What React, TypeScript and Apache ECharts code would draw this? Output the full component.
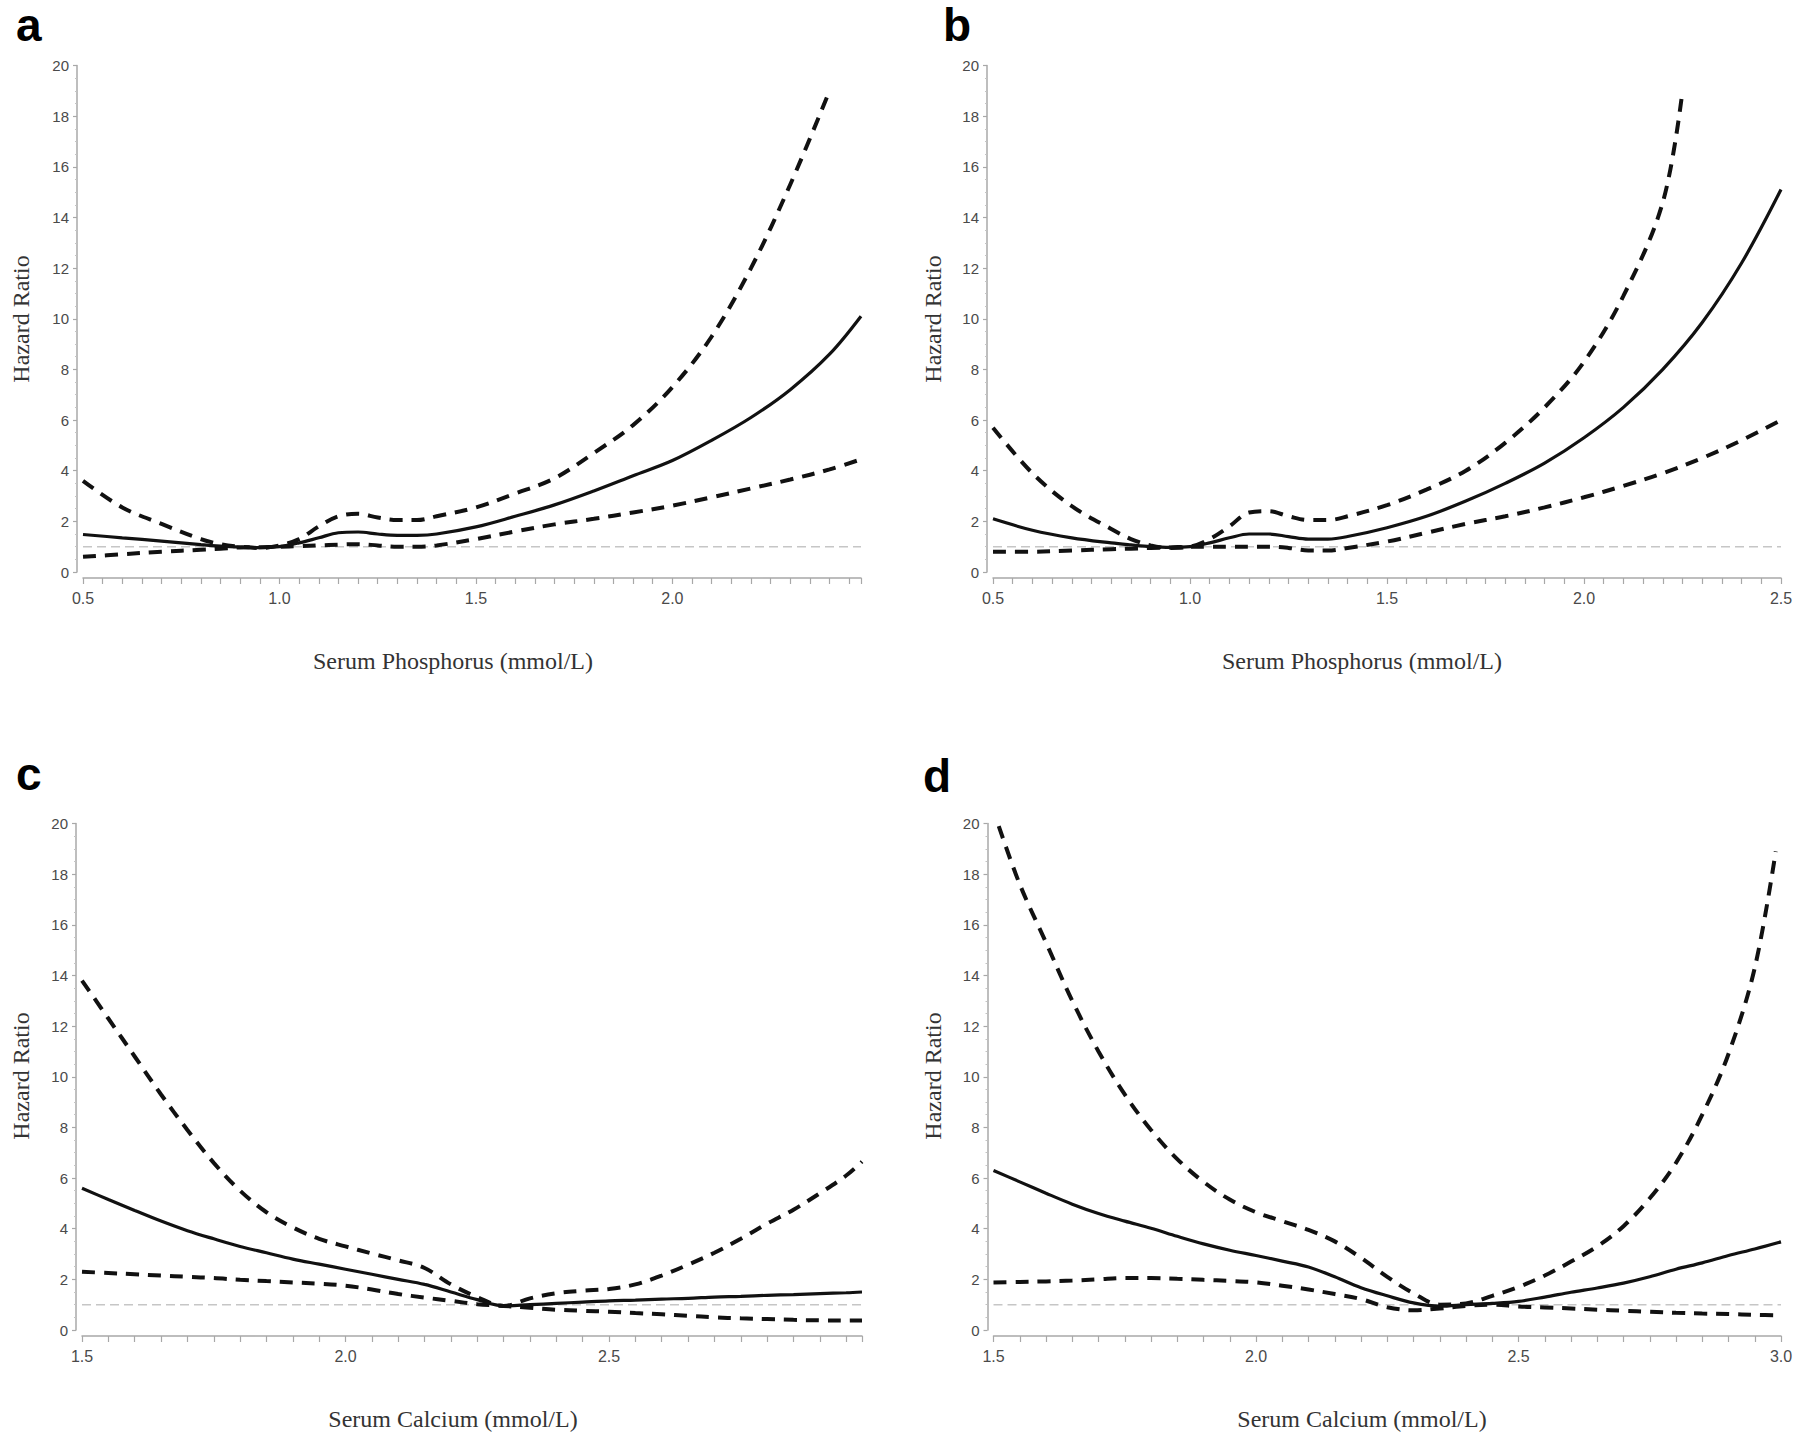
import React, { useEffect, useRef } from "react";
import * as echarts from "echarts";

// ---------- Data ----------
// Panel a: serum phosphorus
const aX = [0.5, 0.6, 0.7, 0.8, 0.85, 0.9, 0.95, 1.0, 1.05, 1.1, 1.15, 1.2, 1.25, 1.3, 1.35, 1.4, 1.5, 1.6, 1.7, 1.8, 1.9, 2.0, 2.1, 2.2, 2.3, 2.4, 2.48];
const aHR = [1.48, 1.35, 1.22, 1.08, 1.02, 0.98, 0.96, 1.0, 1.15, 1.35, 1.55, 1.58, 1.5, 1.45, 1.45, 1.5, 1.78, 2.2, 2.65, 3.2, 3.8, 4.4, 5.2, 6.1, 7.2, 8.6, 10.1];
const aLo = [0.6, 0.7, 0.8, 0.88, 0.92, 0.97, 0.98, 1.0, 1.02, 1.05, 1.08, 1.1, 1.05, 1.0, 1.0, 1.05, 1.3, 1.6, 1.88, 2.1, 2.35, 2.62, 2.95, 3.3, 3.65, 4.05, 4.45];
const aHiX = [0.5, 0.6, 0.7, 0.8, 0.85, 0.9, 0.95, 1.0, 1.05, 1.1, 1.15, 1.2, 1.25, 1.3, 1.35, 1.4, 1.5, 1.6, 1.7, 1.8, 1.9, 2.0, 2.1, 2.2, 2.3, 2.4];
const aHi = [3.6, 2.55, 1.9, 1.3, 1.1, 1.0, 0.95, 1.05, 1.3, 1.8, 2.2, 2.3, 2.15, 2.05, 2.05, 2.2, 2.55, 3.1, 3.7, 4.7, 5.8, 7.3, 9.3, 12.0, 15.3, 19.0];

// Panel b: serum phosphorus
const bX = [0.5, 0.6, 0.7, 0.8, 0.85, 0.9, 0.95, 1.0, 1.05, 1.1, 1.15, 1.2, 1.25, 1.3, 1.35, 1.4, 1.5, 1.6, 1.7, 1.8, 1.9, 2.0, 2.1, 2.2, 2.3, 2.4, 2.5];
const bHR = [2.1, 1.65, 1.35, 1.15, 1.07, 1.0, 0.97, 1.0, 1.15, 1.35, 1.5, 1.5, 1.4, 1.3, 1.3, 1.4, 1.75, 2.2, 2.8, 3.5, 4.3, 5.3, 6.5, 8.0, 9.85, 12.2, 15.1];
const bLo = [0.8, 0.8, 0.85, 0.9, 0.92, 0.95, 0.97, 1.0, 1.0, 1.0, 1.0, 1.0, 0.95, 0.85, 0.85, 0.95, 1.2, 1.55, 1.9, 2.2, 2.55, 2.95, 3.4, 3.9, 4.5, 5.2, 6.0];
const bHiX = [0.5, 0.6, 0.7, 0.8, 0.85, 0.9, 0.95, 1.0, 1.05, 1.1, 1.15, 1.2, 1.25, 1.3, 1.35, 1.4, 1.5, 1.6, 1.7, 1.8, 1.9, 2.0, 2.1, 2.2, 2.25];
const bHi = [5.7, 3.9, 2.6, 1.7, 1.3, 1.05, 0.95, 1.0, 1.3, 1.8, 2.35, 2.4, 2.2, 2.05, 2.05, 2.2, 2.64, 3.25, 4.0, 5.1, 6.5, 8.3, 10.9, 14.6, 19.0];

// Panel c: serum calcium
const cX = [1.5, 1.55, 1.6, 1.65, 1.7, 1.75, 1.8, 1.85, 1.9, 1.95, 2.0, 2.05, 2.1, 2.15, 2.2, 2.25, 2.3, 2.35, 2.4, 2.45, 2.5, 2.55, 2.6, 2.65, 2.7, 2.75, 2.8, 2.85, 2.9, 2.95, 2.98];
const cHR = [5.6, 5.15, 4.72, 4.3, 3.92, 3.6, 3.3, 3.05, 2.8, 2.6, 2.4, 2.2, 2.0, 1.8, 1.5, 1.2, 0.95, 1.0, 1.05, 1.1, 1.15, 1.18, 1.22, 1.25, 1.3, 1.33, 1.37, 1.4, 1.44, 1.47, 1.5];
const cLo = [2.3, 2.25, 2.2, 2.15, 2.1, 2.05, 1.98, 1.93, 1.88, 1.83, 1.75, 1.6, 1.42, 1.28, 1.15, 1.02, 0.95, 0.88, 0.8, 0.76, 0.72, 0.67, 0.62, 0.56, 0.5, 0.46, 0.43, 0.4, 0.38, 0.37, 0.38];
const cHi = [13.8, 12.3, 10.8, 9.3, 7.9, 6.6, 5.5, 4.65, 4.05, 3.6, 3.3, 3.02, 2.75, 2.45, 1.8, 1.3, 0.95, 1.25, 1.45, 1.55, 1.62, 1.8, 2.15, 2.58, 3.05, 3.6, 4.2, 4.75, 5.4, 6.1, 6.65];

// Panel d: serum calcium
const dX = [1.5, 1.55, 1.6, 1.65, 1.7, 1.75, 1.8, 1.85, 1.9, 1.95, 2.0, 2.05, 2.1, 2.15, 2.2, 2.25, 2.3, 2.35, 2.4, 2.45, 2.5, 2.55, 2.6, 2.65, 2.7, 2.75, 2.8, 2.85, 2.9, 2.95, 3.0];
const dHR = [6.3, 5.85, 5.4, 4.97, 4.6, 4.3, 4.02, 3.7, 3.4, 3.15, 2.94, 2.72, 2.49, 2.1, 1.67, 1.35, 1.07, 0.94, 1.0, 1.05, 1.13, 1.3, 1.49, 1.66, 1.85, 2.1, 2.4, 2.65, 2.94, 3.2, 3.48];
const dLo = [1.88, 1.9, 1.92, 1.95, 2.0, 2.05, 2.05, 2.02, 1.98, 1.94, 1.88, 1.75, 1.6, 1.42, 1.22, 0.9, 0.78, 0.85, 0.95, 1.0, 0.93, 0.89, 0.85, 0.8, 0.76, 0.72, 0.68, 0.65, 0.63, 0.6, 0.58];
const dHiX = [1.51, 1.55, 1.6, 1.65, 1.7, 1.75, 1.8, 1.85, 1.9, 1.95, 2.0, 2.05, 2.1, 2.15, 2.2, 2.25, 2.3, 2.35, 2.4, 2.45, 2.5, 2.55, 2.6, 2.65, 2.7, 2.75, 2.8, 2.85, 2.9, 2.95, 2.99];
const dHi = [19.9, 17.6, 15.3, 13.0, 11.0, 9.3, 7.9, 6.75, 5.85, 5.15, 4.65, 4.3, 3.95, 3.5, 2.85, 2.1, 1.45, 1.0, 1.05, 1.35, 1.7, 2.15, 2.7, 3.3, 4.1, 5.2, 6.6, 8.5, 10.9, 14.3, 18.9];

// Reference hazard ratio line
const refHR = 1;

// Axis ranges and labels
const yMin = 0;
const yMax = 20;
const yStep = 2;
const xStep = 0.5;
const panelLetters = ["a", "b", "c", "d"];
const xTitles = ["Serum Phosphorus (mmol/L)", "Serum Phosphorus (mmol/L)", "Serum Calcium (mmol/L)", "Serum Calcium (mmol/L)"];
const yTitle = "Hazard Ratio";

const pairs = (xs: number[], ys: number[]) => xs.map((x, i) => [x, ys[i]]);

const panels = [
  { grid: { left: 83, top: 65.5, width: 778, height: 506.5 }, xMin: 0.5, xMax: 2.48, showMax: false, x: aX, hr: aHR, lo: aLo, hiX: aHiX, hi: aHi,
    letter: { x: 16, y: 25 }, xt: { x: 453, y: 661 }, yt: { x: 21, y: 319 } },
  { grid: { left: 993, top: 65.5, width: 788, height: 506.5 }, xMin: 0.5, xMax: 2.5, showMax: true, x: bX, hr: bHR, lo: bLo, hiX: bHiX, hi: bHi,
    letter: { x: 943, y: 25 }, xt: { x: 1362, y: 661 }, yt: { x: 933, y: 319 } },
  { grid: { left: 82, top: 823.5, width: 780, height: 506.5 }, xMin: 1.5, xMax: 2.98, showMax: false, x: cX, hr: cHR, lo: cLo, hiX: cX, hi: cHi,
    letter: { x: 16, y: 774 }, xt: { x: 453, y: 1419 }, yt: { x: 21, y: 1076 } },
  { grid: { left: 993.5, top: 823.5, width: 787.5, height: 506.5 }, xMin: 1.5, xMax: 3.0, showMax: true, x: dX, hr: dHR, lo: dLo, hiX: dHiX, hi: dHi,
    letter: { x: 923, y: 776 }, xt: { x: 1362, y: 1419 }, yt: { x: 933, y: 1076 } },
];

const AXIS_COLOR = "#a8a8a8";
const LABEL_COLOR = "#4a4a4a";
const NARROW = '"Liberation Sans Narrow", "Arial Narrow", "Liberation Sans", sans-serif';
const SERIF = '"Liberation Serif", "Times New Roman", serif';

export default function App() {
  const ref = useRef<HTMLDivElement>(null);

  useEffect(() => {
    if (!ref.current) return;
    const chart = echarts.init(ref.current, undefined, { renderer: "svg" });

    const grid = panels.map((p) => ({ ...p.grid, containLabel: false }));

    const xAxis = panels.map((p, i) => ({
      type: "value",
      gridIndex: i,
      min: p.xMin,
      max: p.xMax,
      interval: xStep,
      offset: 6,
      axisLine: { show: true, onZero: false, lineStyle: { color: AXIS_COLOR, width: 1.5 } },
      axisTick: { show: true, length: 6, lineStyle: { color: AXIS_COLOR, width: 1.2 } },
      minorTick: { show: true, splitNumber: 10, length: 6, lineStyle: { color: AXIS_COLOR, width: 1.2 } },
      splitLine: { show: false },
      minorSplitLine: { show: false },
      axisLabel: {
        show: true,
        margin: 12,
        color: LABEL_COLOR,
        fontSize: 16,
        fontFamily: NARROW,
        showMaxLabel: p.showMax,
        showMinLabel: true,
        formatter: (v: number) => v.toFixed(1),
      },
    }));

    const yAxis = panels.map((p, i) => ({
      type: "value",
      gridIndex: i,
      min: yMin,
      max: yMax,
      interval: yStep,
      offset: 6,
      axisLine: { show: true, onZero: false, lineStyle: { color: AXIS_COLOR, width: 1.5 } },
      axisTick: { show: true, length: 4, lineStyle: { color: AXIS_COLOR, width: 1.2 } },
      minorTick: { show: true, splitNumber: 4, length: 2, lineStyle: { color: "#c4c4c4", width: 1 } },
      splitLine: { show: false },
      axisLabel: { show: true, margin: 8, color: LABEL_COLOR, fontSize: 15, fontFamily: NARROW },
    }));

    const series: any[] = [];
    panels.forEach((p, i) => {
      series.push({
        type: "line",
        xAxisIndex: i,
        yAxisIndex: i,
        data: [[p.xMin, refHR], [p.xMax, refHR]],
        symbol: "none",
        silent: true,
        lineStyle: { color: "#c6c6c6", width: 1.6, type: [9, 5] },
        z: 1,
      });
      series.push({
        type: "line",
        xAxisIndex: i,
        yAxisIndex: i,
        data: pairs(p.x, p.lo),
        symbol: "none",
        smooth: 0.35,
        lineStyle: { color: "#111111", width: 4, type: [13, 9] },
        z: 2,
      });
      series.push({
        type: "line",
        xAxisIndex: i,
        yAxisIndex: i,
        data: pairs(p.hiX, p.hi),
        symbol: "none",
        smooth: 0.35,
        lineStyle: { color: "#111111", width: 4, type: [13, 9] },
        z: 2,
      });
      series.push({
        type: "line",
        xAxisIndex: i,
        yAxisIndex: i,
        data: pairs(p.x, p.hr),
        symbol: "none",
        smooth: 0.35,
        lineStyle: { color: "#111111", width: 3.2, type: "solid" },
        z: 3,
      });
    });

    const graphic: any[] = [];
    panels.forEach((p, i) => {
      graphic.push({
        type: "text",
        x: p.letter.x,
        y: p.letter.y,
        style: {
          text: panelLetters[i],
          font: 'bold 46px "Liberation Sans", Arial, sans-serif',
          fill: "#000000",
          align: "left",
          verticalAlign: "middle",
        },
      });
      graphic.push({
        type: "text",
        x: p.xt.x,
        y: p.xt.y,
        style: {
          text: xTitles[i],
          font: "24px " + SERIF,
          fill: "#333333",
          align: "center",
          verticalAlign: "middle",
        },
      });
      graphic.push({
        type: "text",
        x: p.yt.x,
        y: p.yt.y,
        rotation: Math.PI / 2,
        style: {
          text: yTitle,
          font: "24px " + SERIF,
          fill: "#333333",
          align: "center",
          verticalAlign: "middle",
        },
      });
    });

    chart.setOption({
      animation: false,
      backgroundColor: "#ffffff",
      grid,
      xAxis,
      yAxis,
      series,
      graphic,
    });

    return () => {
      chart.dispose();
    };
  }, []);

  return (
    <div
      ref={ref}
      style={{ position: "absolute", left: 0, top: 0, width: 1800, height: 1441, background: "#ffffff" }}
    />
  );
}
